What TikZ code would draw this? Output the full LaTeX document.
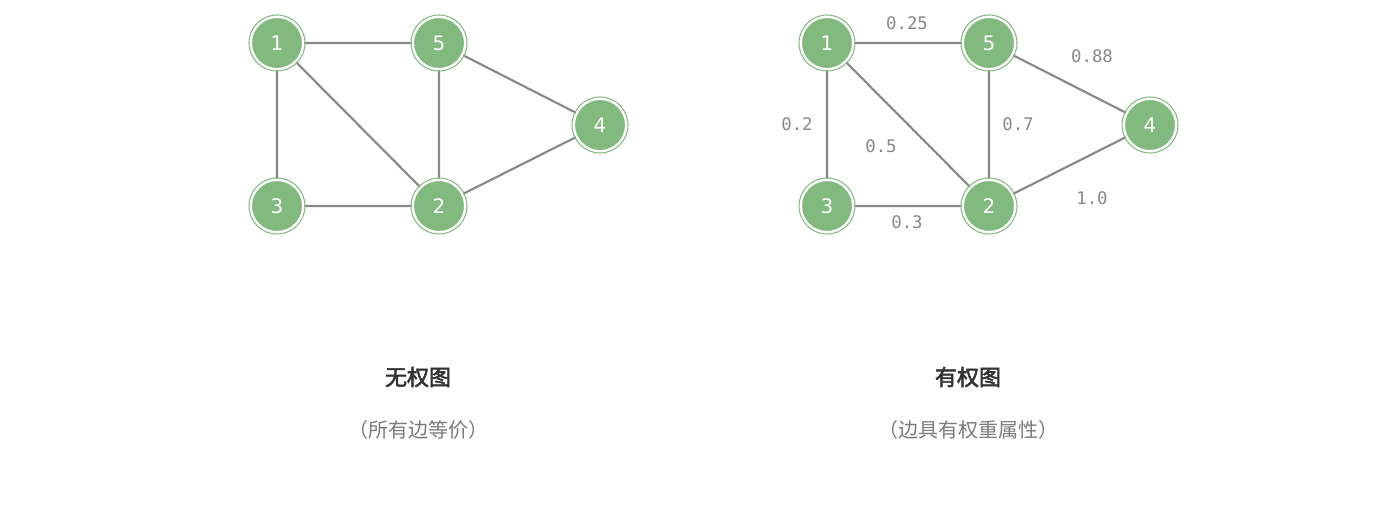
\documentclass[tikz,border=0pt]{standalone}
\usepackage{fontspec}
\newfontfamily\cjk{Noto Sans CJK SC}
\newfontfamily\cjkb[FakeBold=2.5]{Noto Sans CJK SC}
\setmainfont{DejaVu Sans}
\setmonofont{DejaVu Sans Mono}
\definecolor{ng}{HTML}{82B97E}
\definecolor{eg}{HTML}{888888}
\tikzset{
 vert/.style={circle,fill=ng,draw=white,line width=1.5pt,minimum size=39pt,inner sep=0pt,text=white,font=\fontsize{15}{15}\selectfont},
 ring/.style={circle,draw=ng,line width=0.8pt,minimum size=42pt,inner sep=0pt},
 edge/.style={draw=eg,line width=1.6pt},
 wt/.style={text=eg,font=\ttfamily\fontsize{13}{13}\selectfont},
}
\begin{document}
\begin{tikzpicture}[x=0.75pt,y=-0.75pt]
\useasboundingbox (0,0) rectangle (1377,514);
\foreach \dx/\p in {0/a,550/b}{
 \coordinate (\p1) at (277+\dx,43);
 \coordinate (\p5) at (439+\dx,43);
 \coordinate (\p4) at (600+\dx,125);
 \coordinate (\p3) at (277+\dx,206);
 \coordinate (\p2) at (439+\dx,206);
 \draw[edge] (\p1)--(\p5) (\p1)--(\p3) (\p1)--(\p2) (\p5)--(\p2) (\p5)--(\p4) (\p3)--(\p2) (\p2)--(\p4);
 \foreach \n in {1,...,5}{
  \node[ring] at (\p\n) {};
  \node[vert] (\p n\n) at (\p\n) {\n};
 }
}
\node[wt] (w1) at (907,23) {0.25};
\node[wt] (w2) at (1092,56) {0.88};
\node[wt] (w3) at (797,124) {0.2};
\node[wt] (w4) at (881,146) {0.5};
\node[wt] (w5) at (1018,124) {0.7};
\node[wt] (w6) at (1092,198) {1.0};
\node[wt] (w7) at (907,222) {0.3};
\node[text=black!80,font=\cjkb\fontsize{16.5}{16.5}\selectfont] (t1) at (418,377) {无权图};
\node[text=black!80,font=\cjkb\fontsize{16.5}{16.5}\selectfont] (t2) at (968,377) {有权图};
\node[text=eg!90!black,font=\cjk\fontsize{15}{15}\selectfont] (s1) at (418,430) {（所有边等价）};
\node[text=eg!90!black,font=\cjk\fontsize{15}{15}\selectfont] (s2) at (968,430) {（边具有权重属性）};
\end{tikzpicture}
\end{document}
